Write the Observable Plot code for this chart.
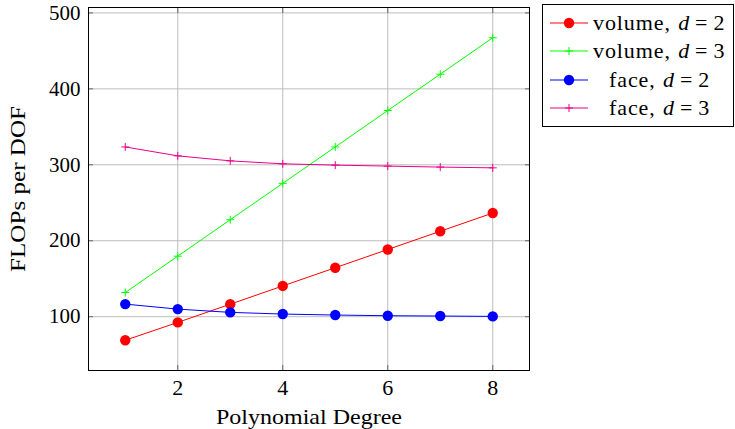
<!DOCTYPE html>
<html>
<head>
<meta charset="utf-8">
<script src="https://cdn.jsdelivr.net/npm/d3@7"></script>
<script src="https://cdn.jsdelivr.net/npm/@observablehq/plot@0.6"></script>
<style>
  html, body { margin: 0; padding: 0; background: #fff; }
  #wrap { position: relative; width: 735px; height: 429px; font-family: "Liberation Serif"; }
  #legend { position: absolute; left: 542px; top: 4px; width: 192px; height: 123px; border: 1px solid #000; background: #fff; box-sizing: border-box; font-size: 22px; font-family: "Liberation Serif"; }
  .sw { position: absolute; left: 7px; }
  .lbl { position: absolute; white-space: nowrap; line-height: 1; letter-spacing: 0.9px; }
  .m { font-style: italic; margin-left: 1px; }
  .eq { margin: 0 5px; }
</style>
</head>
<body>
<div id="wrap"></div>
<script>
const degrees = [1, 2, 3, 4, 5, 6, 7, 8];
const volume2 = [69, 92.5, 116.5, 140.5, 164.5, 188.5, 212.5, 236.5];
const volume3 = [131.8, 179.7, 227.7, 275.6, 323.5, 371.5, 419.3, 467.3];
const face2 = [116.6, 110, 105.7, 103.5, 102.2, 101.3, 100.9, 100.4];
const face3 = [323.5, 311.8, 305.2, 301.3, 299.6, 298.3, 297, 296];
const seriesNames = ["volume, d = 2", "volume, d = 3", "face, d = 2", "face, d = 3"];
const seriesColors = ["#ff0000", "#00ff00", "#0000ff", "#ec008c"];
const seriesMarkers = ["circle", "plus", "circle", "plus"];
const xTicks = [2, 4, 6, 8];
const yTicks = [100, 200, 300, 400, 500];
const xLabel = "Polynomial Degree";
const yLabel = "FLOPs per DOF";

const allValues = [volume2, volume3, face2, face3];
const rows = [];
allValues.forEach((vals, s) => vals.forEach((v, i) => rows.push({series: seriesNames[s], x: degrees[i], y: v, idx: s})));

// pgfplots-like enlarged limits (10% of range)
const xmin = d3.min(degrees), xmax = d3.max(degrees);
const ymin = d3.min(allValues.flat()), ymax = d3.max(allValues.flat());
const xpad = (xmax - xmin) * 0.1, ypad = (ymax - ymin) * 0.1;

const plusSymbol = {
  draw(context, size) {
    const r = Math.sqrt(size) / 2;
    context.moveTo(-r, 0); context.lineTo(r, 0);
    context.moveTo(0, -r); context.lineTo(0, r);
  }
};

const FONT = "Liberation Serif";
const marks = [
  Plot.ruleX(xTicks, {stroke: "#bdbdbd", strokeWidth: 1}),
  Plot.ruleY(yTicks, {stroke: "#bdbdbd", strokeWidth: 1}),
  Plot.axisX({anchor: "bottom", ticks: xTicks, tickSize: -5, tickPadding: 14, stroke: "#666", label: xLabel, labelAnchor: "center", labelOffset: 53, labelArrow: "none", fontSize: 22, fontFamily: FONT, color: "#000"}),
  Plot.axisX({anchor: "top", ticks: xTicks, tickSize: -5, tickFormat: () => "", label: null, stroke: "#666"}),
  Plot.axisY({anchor: "left", ticks: yTicks, tickSize: -5, tickPadding: 13, stroke: "#666", label: yLabel, labelAnchor: "center", labelOffset: 79, labelArrow: "none", fontSize: 21, fontFamily: FONT, color: "#000"}),
  Plot.axisY({anchor: "right", ticks: yTicks, tickSize: -5, tickFormat: () => "", label: null, stroke: "#666"}),
  Plot.frame({stroke: "#000", strokeWidth: 1})
];
seriesNames.forEach((name, s) => {
  const data = rows.filter(d => d.idx === s);
  marks.push(Plot.line(data, {x: "x", y: "y", stroke: seriesColors[s], strokeWidth: 1}));
  if (seriesMarkers[s] === "circle") {
    marks.push(Plot.dot(data, {x: "x", y: "y", r: 5.2, fill: seriesColors[s], stroke: "none"}));
  } else {
    marks.push(Plot.dot(data, {x: "x", y: "y", symbol: plusSymbol, r: 4.5, fill: "none", stroke: seriesColors[s], strokeWidth: 1}));
  }
});

const chart = Plot.plot({
  width: 735,
  height: 429,
  marginLeft: 88,
  marginRight: 206,
  marginTop: 7,
  marginBottom: 59,
  style: {fontFamily: FONT, fontSize: "22px", color: "#000", background: "#fff"},
  x: {domain: [xmin - xpad, xmax + xpad]},
  y: {domain: [ymin - ypad, ymax + ypad]},
  marks
});
// widen the axis labels toward Computer Modern proportions
d3.select(chart).selectAll("text").each(function () {
  const t = this.textContent;
  if (t === xLabel) d3.select(this).attr("textLength", 186).attr("lengthAdjust", "spacingAndGlyphs").attr("font-size", 22);
  if (t === yLabel) d3.select(this).attr("textLength", 166).attr("lengthAdjust", "spacingAndGlyphs").attr("font-size", 22);
});
const wrap = document.getElementById("wrap");
wrap.appendChild(chart);

// legend
const legend = document.createElement("div");
legend.id = "legend";
seriesNames.forEach((name, s) => {
  const cy = 18 + s * 28.4;
  const sw = d3.create("svg").attr("class", "sw").attr("width", 40).attr("height", 20).style("top", (cy - 10) + "px");
  sw.append("line").attr("x1", 0).attr("x2", 38).attr("y1", 10).attr("y2", 10).attr("stroke", seriesColors[s]).attr("stroke-width", 1);
  if (seriesMarkers[s] === "circle") sw.append("circle").attr("cx", 19).attr("cy", 10).attr("r", 5.2).attr("fill", seriesColors[s]);
  else sw.append("path").attr("d", "M15,10H23M19,6V14").attr("stroke", seriesColors[s]).attr("stroke-width", 1);
  legend.appendChild(sw.node());
  const lbl = document.createElement("span");
  lbl.className = "lbl";
  lbl.style.left = (name.startsWith("face") ? 66 : 50) + "px";
  lbl.style.top = (cy - 11) + "px";
  const [word, rest] = name.split(", d = ");
  lbl.innerHTML = word + ', <span class="m">d</span><span class="eq">=</span>' + rest;
  legend.appendChild(lbl);
});
wrap.appendChild(legend);
</script>
</body>
</html>
